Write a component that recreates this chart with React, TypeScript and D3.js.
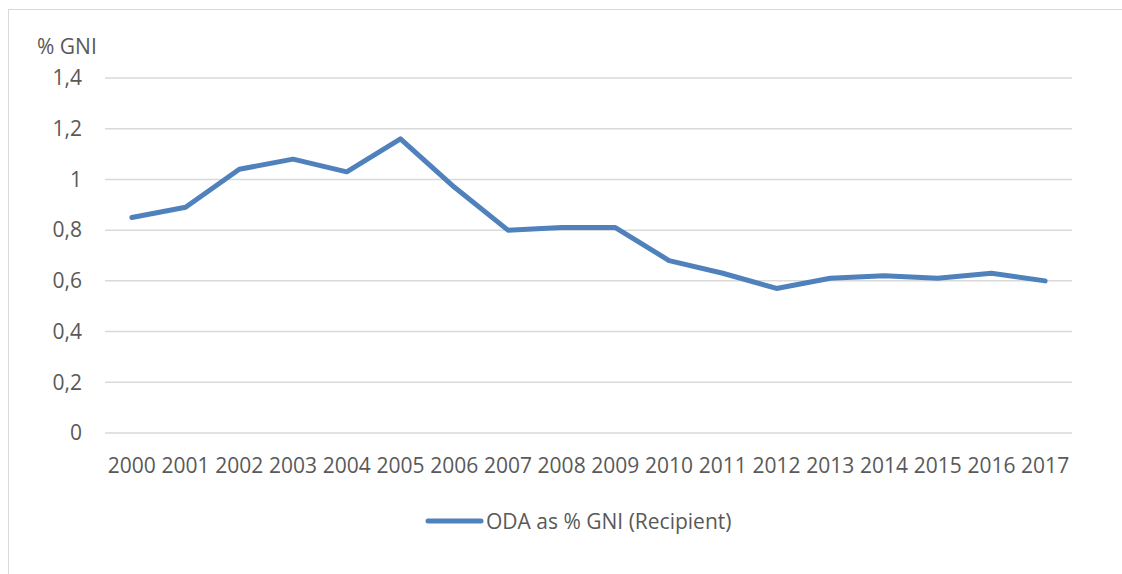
import React, { useEffect, useRef } from 'react';
import * as d3 from 'd3';

const years = ['2000', '2001', '2002', '2003', '2004', '2005', '2006', '2007', '2008',
  '2009', '2010', '2011', '2012', '2013', '2014', '2015', '2016', '2017'];
const odaPctGni = [0.85, 0.89, 1.04, 1.08, 1.03, 1.16, 0.97, 0.80, 0.81,
  0.81, 0.68, 0.63, 0.57, 0.61, 0.62, 0.61, 0.63, 0.60];
const yTicks = [0, 0.2, 0.4, 0.6, 0.8, 1, 1.2, 1.4];
const seriesName = 'ODA as % GNI (Recipient)';
const yTitle = '% GNI';

const W = 1122;
const H = 574;
const FONT = '"Open Sans", Lato, sans-serif';
const FS = 21;
const TEXT = '#595959';

const App = () => {
  const ref = useRef<SVGSVGElement>(null);

  useEffect(() => {
    if (!ref.current) return;
    const svg = d3.select(ref.current);
    svg.selectAll('*').remove();

    const margin = { top: 78, right: 50, bottom: 141, left: 105 };
    const x = d3.scaleBand().domain(years).range([margin.left, W - margin.right]);
    const y = d3.scaleLinear().domain([0, 1.4]).range([H - margin.bottom, margin.top]);

    // chart frame (runs off the right/bottom edge, like the source)
    svg.append('rect')
      .attr('x', 8.5).attr('y', 9.5)
      .attr('width', 1300).attr('height', 800)
      .attr('fill', '#fff').attr('stroke', '#d9d9d9');

    // gridlines
    svg.append('g').selectAll('line').data(yTicks).join('line')
      .attr('x1', margin.left).attr('x2', W - margin.right)
      .attr('y1', d => y(d)).attr('y2', d => y(d))
      .attr('stroke', '#d9d9d9').attr('stroke-width', 1.5);

    const fmt = (d: number) => (d === 0 || d === 1 ? String(d) : d.toFixed(1).replace('.', ','));

    svg.append('g').selectAll('text').data(yTicks).join('text')
      .attr('x', 82).attr('y', d => y(d)).attr('dy', '0.35em')
      .attr('text-anchor', 'end')
      .attr('font-family', FONT).attr('font-size', FS).attr('fill', TEXT)
      .text(fmt);

    svg.append('text')
      .attr('x', 37).attr('y', 54)
      .attr('font-family', FONT).attr('font-size', FS).attr('fill', TEXT)
      .text(yTitle);

    svg.append('g').selectAll('text').data(years).join('text')
      .attr('x', d => (x(d) ?? 0) + x.bandwidth() / 2).attr('y', 473)
      .attr('text-anchor', 'middle')
      .attr('font-family', FONT).attr('font-size', FS).attr('fill', TEXT)
      .text(d => d);

    const line = d3.line<number>()
      .x((_, i) => (x(years[i]) ?? 0) + x.bandwidth() / 2)
      .y(d => y(d));

    svg.append('path')
      .datum(odaPctGni)
      .attr('d', line)
      .attr('fill', 'none')
      .attr('stroke', '#4f81bd')
      .attr('stroke-width', 5)
      .attr('stroke-linejoin', 'round')
      .attr('stroke-linecap', 'round');

    // legend
    const lg = svg.append('g');
    lg.append('line')
      .attr('x1', 428).attr('x2', 481).attr('y1', 521).attr('y2', 521)
      .attr('stroke', '#4f81bd').attr('stroke-width', 5).attr('stroke-linecap', 'round');
    lg.append('text')
      .attr('x', 486).attr('y', 529)
      .attr('font-family', FONT).attr('font-size', FS).attr('fill', TEXT)
      .text(seriesName);
  }, []);

  return (
    <svg ref={ref} width={W} height={H}
      style={{ position: 'absolute', left: 0, top: 0, display: 'block', background: '#fff' }} />
  );
};

export default App;
